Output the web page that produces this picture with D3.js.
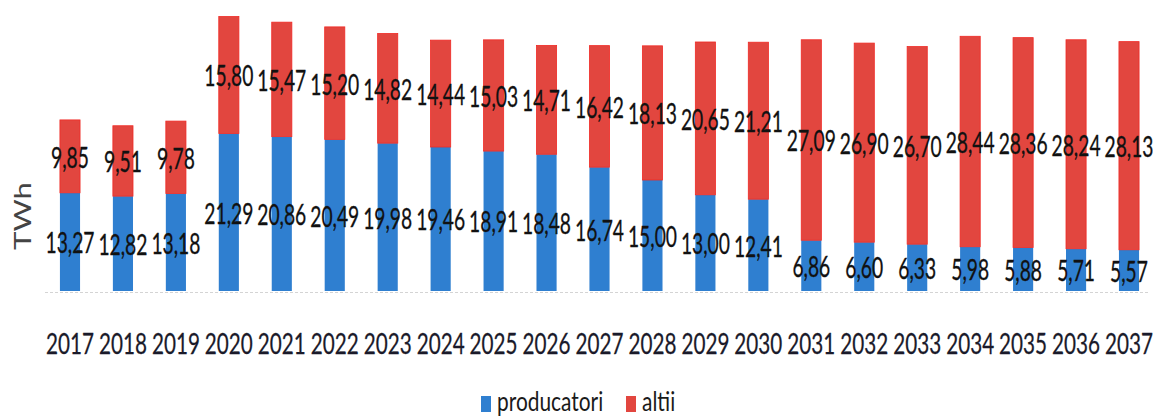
<!DOCTYPE html>
<html><head><meta charset="utf-8">
<script src="https://cdn.jsdelivr.net/npm/d3@7"></script>
<style>body{margin:0;background:#fff}</style>
</head><body>
<svg id="c" width="1156" height="416"></svg>
<script>
const years = ["2017","2018","2019","2020","2021","2022","2023","2024","2025","2026","2027","2028","2029","2030","2031","2032","2033","2034","2035","2036","2037"];
const producatori = [13.27,12.82,13.18,21.29,20.86,20.49,19.98,19.46,18.91,18.48,16.74,15.00,13.00,12.41,6.86,6.60,6.33,5.98,5.88,5.71,5.57];
const altii = [9.85,9.51,9.78,15.80,15.47,15.20,14.82,14.44,15.03,14.71,16.42,18.13,20.65,21.21,27.09,26.90,26.70,28.44,28.36,28.24,28.13];
const seriesNames = ["producatori","altii"];
const colors = {producatori:"#2f7fd0", altii:"#e2463f"};

const font = "Lato, 'Open Sans', sans-serif";
const svg = d3.select("#c");
const x = d3.scaleBand().domain(years).range([27.1,1171.9]).paddingInner(0.62).paddingOuter(0.62);
const y = d3.scaleLinear().domain([0,40]).range([291,-5]);

function fitScale(sample, size, target){
  const t = svg.append("text").attr("font-family",font).attr("font-size",size).text(sample);
  const w = t.node().getComputedTextLength(); t.remove();
  return target / w;
}
const labelSize = 22, yearSize = 22;
const sxLabel = fitScale("20,86", labelSize, 49);
const sxYear = fitScale("2017", yearSize, 48);

const rows = years.map((yr,i)=>({year:yr, producatori:producatori[i], altii:altii[i]}));
const stack = d3.stack().keys(seriesNames)(rows);

// baseline
svg.append("line").attr("x1",45).attr("x2",1150).attr("y1",y(0)+1.5).attr("y2",y(0)+1.5)
  .attr("stroke","#d4d4d4").attr("stroke-width",1.2).attr("stroke-dasharray","3,2");

const g = svg.append("g");
stack.forEach(s=>{
  g.selectAll(null).data(s).enter().append("rect")
    .attr("x",d=>x(d.data.year)).attr("width",x.bandwidth())
    .attr("y",d=>y(d[1])).attr("height",d=>y(d[0])-y(d[1]))
    .attr("fill",colors[s.key])
    .attr("stroke", s.key==="altii" ? "#f02a25" : "none").attr("stroke-width",0.8);
});

const fmt = v => v.toFixed(2).replace(".",",");
stack.forEach(s=>{
  g.selectAll(null).data(s).enter().append("text")
    .attr("transform",d=>`translate(${x(d.data.year)+x.bandwidth()/2},${(y(d[0])+y(d[1]))/2 + 1}) scale(${sxLabel},1.32)`)
    .attr("text-anchor","middle").attr("dy","0.36em")
    .attr("font-family",font).attr("font-size",labelSize).attr("fill","#111")
    .attr("stroke","#111").attr("stroke-width",0.25)
    .text(d=>fmt(d[1]-d[0]));
});

// x axis labels
const xAxis = d3.axisBottom(x).tickSize(0).tickPadding(0);
const ax = svg.append("g").call(xAxis);
ax.select(".domain").remove();
ax.selectAll(".tick text")
  .attr("transform",`translate(0,344) scale(${sxYear},1.32)`)
  .attr("y",0).attr("dy","0.36em")
  .attr("font-family",font).attr("font-size",yearSize).attr("fill","#1a1a2a")
  .attr("stroke","#1a1a2a").attr("stroke-width",0.2);

// y axis title
svg.append("text").attr("transform","translate(31,216) rotate(-90) scale(1.3,1)")
  .attr("text-anchor","middle").attr("font-family",font).attr("font-size",24).attr("fill","#444")
  .text("TWh");

// legend
const leg = svg.append("g");
const legItems = [{k:"producatori",sx:481,tx:497},{k:"altii",sx:626,tx:642}];
legItems.forEach(it=>{
  leg.append("rect").attr("x",it.sx).attr("y",396).attr("width",10).attr("height",16).attr("fill",colors[it.k]);
  leg.append("text").attr("transform",`translate(${it.tx},411) scale(0.95,1.25)`)
    .attr("font-family",font).attr("font-size",22).attr("fill","#1a1a1a").text(it.k);
});
</script>
</body></html>
